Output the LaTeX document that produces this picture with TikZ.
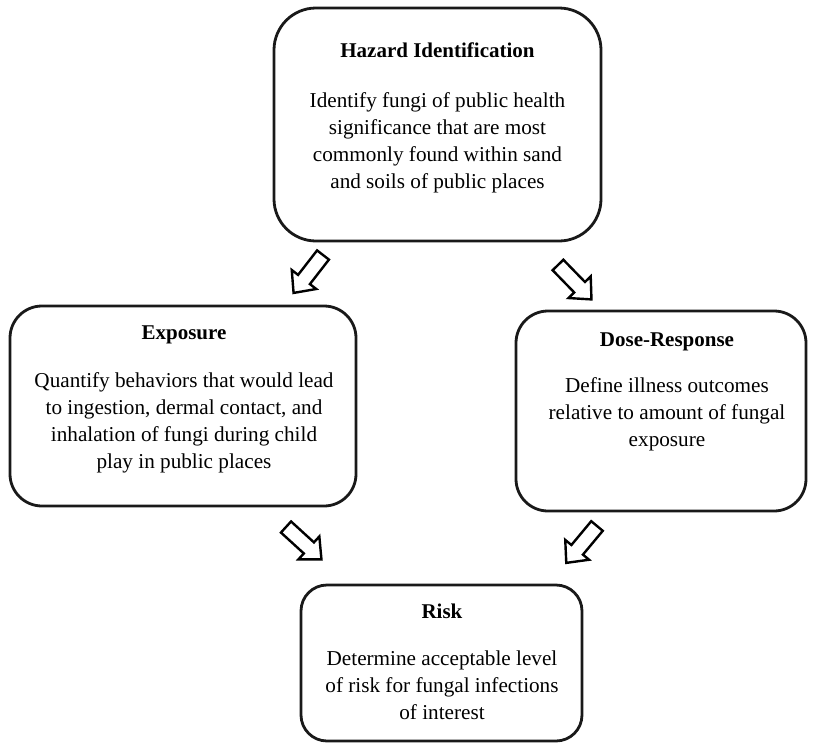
\documentclass[tikz,border=0pt]{standalone}
\usepackage{fontspec}
\setmainfont{Liberation Serif}
\begin{document}
\begin{tikzpicture}[x=1pt,y=-1pt,
  box/.style={draw=black!90,line width=2.8pt},
  txt/.style={align=center,font=\fontsize{21.2}{27}\selectfont,inner sep=0pt,anchor=north},
  ttl/.style={font=\fontsize{21}{24}\selectfont\bfseries,inner sep=0pt,anchor=north},
  blockarrow/.pic={\draw[line width=2.4pt,line join=miter,fill=white]
     (0,-7.5) -- (31,-7.5) -- (31,-15.5) -- (48,0) -- (31,15.5) -- (31,7.5) -- (0,7.5) -- cycle;}]
\useasboundingbox (0,0) rectangle (814,747);
% boxes
\draw[box,rounded corners=42pt] (274,8) rectangle (601,241);
\node[ttl] (hazt) at (437.5,43) {Hazard Identification};
\node[txt] (hazb) at (437.5,92.5) {Identify fungi of public health\\significance that are most\\commonly found within sand\\and soils of public places};

\draw[box,rounded corners=32pt] (10,306) rectangle (356,506);
\node[ttl] (expt) at (184,325.5) {Exposure};
\node[txt] (expb) at (184,372.5) {Quantify behaviors that would lead\\to ingestion, dermal contact, and\\inhalation of fungi during child\\play in public places};

\draw[box,rounded corners=32pt] (516,311) rectangle (806,511);
\node[ttl] (dost) at (667,332.5) {Dose-Response};
\node[txt] (dosb) at (667,377.5) {Define illness outcomes\\relative to amount of fungal\\exposure};

\draw[box,rounded corners=26pt] (301,585) rectangle (582,741);
\node[ttl] (rskt) at (442,604) {Risk};
\node[txt] (rskb) at (442,651) {Determine acceptable level\\of risk for fungal infections\\of interest};

% block arrows
\pic[rotate=-127.8] at (323,255) {blockarrow};
\pic[rotate=-45.8] at (558,265) {blockarrow};
\pic[rotate=-42.4] at (286,527) {blockarrow};
\pic[rotate=-129.8] at (597,526) {blockarrow};
\end{tikzpicture}
\end{document}
